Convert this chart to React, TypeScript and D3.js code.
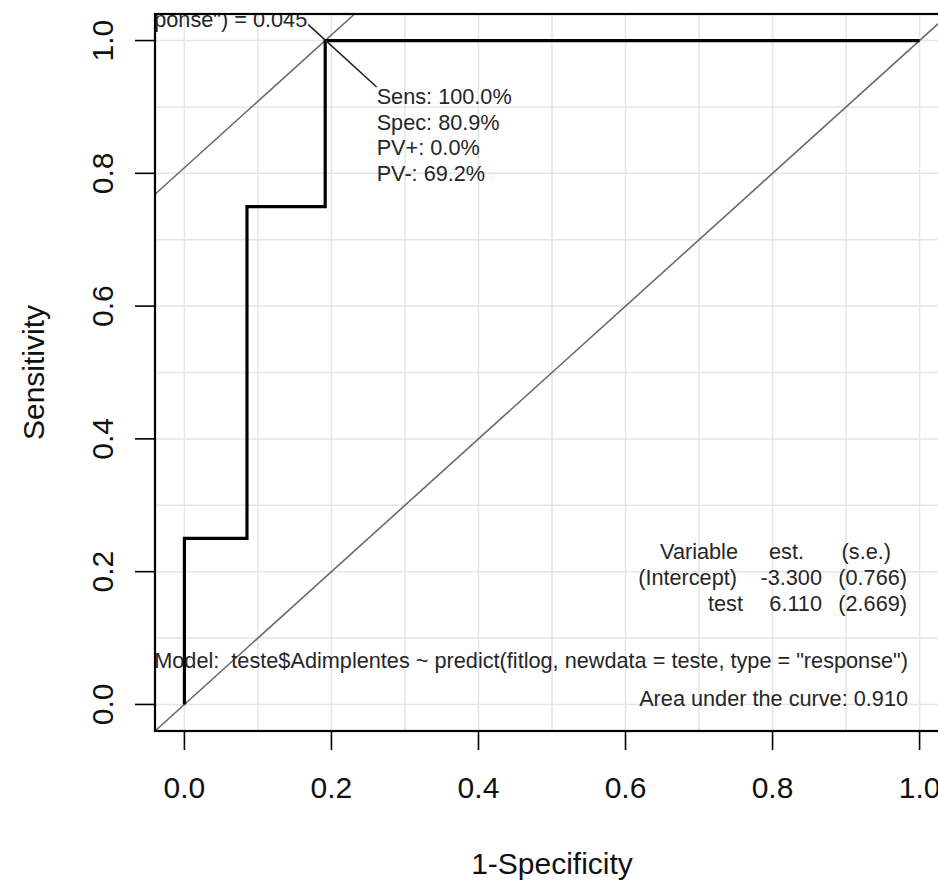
import React from "react";
import * as d3 from "d3";

// ROC curve (1-Specificity, Sensitivity)
const rocFpr = [0, 0, 0.0851, 0.1915, 1.0];
const rocSens = [0, 0.25, 0.75, 1.0, 1.0];
// optimal cut point
const optFpr = 0.1915;
const optSens = 1.0;
const optLabel = 'predict(fitlog, newdata = teste, type = "response") = 0.045';
const optStats = ["Sens: 100.0%", "Spec: 80.9%", "PV+: 0.0%", "PV-: 69.2%"];

const xTicks = [0, 0.2, 0.4, 0.6, 0.8, 1.0];
const yTicks = [0, 0.2, 0.4, 0.6, 0.8, 1.0];
const gridVals = [0, 0.1, 0.2, 0.3, 0.4, 0.5, 0.6, 0.7, 0.8, 0.9, 1.0];

const coefHeader = ["Variable", "est.", "(s.e.)"];
const coefRow1 = ["(Intercept)", "-3.300", "(0.766)"];
const coefRow2 = ["test", "6.110", "(2.669)"];
const modelText = 'Model:  teste$Adimplentes ~ predict(fitlog, newdata = teste, type = "response")';
const aucText = "Area under the curve: 0.910";

const xTitle = "1-Specificity";
const yTitle = "Sensitivity";

export default function App() {
  const W = 938;
  const H = 880;
  const left = 155, right = 949, top = 14, bottom = 731;
  const x = d3.scaleLinear().domain([-0.04, 1.04]).range([left, right]);
  const y = d3.scaleLinear().domain([-0.04, 1.04]).range([bottom, top]);
  const font = "'Liberation Sans', Arial, Helvetica, sans-serif";

  const rocPts: [number, number][] = rocFpr.map((f, i) => [f, rocSens[i]]);
  const rocPath = d3
    .line<[number, number]>()
    .x((d) => x(d[0]))
    .y((d) => y(d[1]))
    .curve(d3.curveStepAfter)(rocPts) as string;

  const diag = d3.line<[number, number]>().x((d) => x(d[0])).y((d) => y(d[1]));
  const diagPath = diag([[-0.04, -0.04], [1.04, 1.04]]) as string;
  const b = optSens - optFpr;
  const tangPath = diag([[-0.04, -0.04 + b], [1.04 - b, 1.04]]) as string;

  const px = x(optFpr);
  const py = y(optSens);

  const annFs = 21.7;
  const axFs = 30;
  const annCol = "#262626";
  const colEnds1 = [738, 804, 891];
  const colEnds2 = [737, 822, 907];
  const colEnds3 = [743, 822, 907];

  return (
    <svg
      width={W}
      height={H}
      style={{ position: "absolute", left: 0, top: 0, background: "#fff" }}
      fontFamily={font}
    >
      <defs>
        <clipPath id="plotclip">
          <rect x={left} y={top} width={right - left} height={bottom - top} />
        </clipPath>
      </defs>
      <rect x={0} y={0} width={W} height={H} fill="#fff" />
      <g clipPath="url(#plotclip)">
        {gridVals.map((v) => (
          <line key={"gv" + v} x1={x(v)} x2={x(v)} y1={top} y2={bottom} stroke="#e5e5e5" strokeWidth={1.5} />
        ))}
        {gridVals.map((v) => (
          <line key={"gh" + v} x1={left} x2={right} y1={y(v)} y2={y(v)} stroke="#e5e5e5" strokeWidth={1.5} />
        ))}
        <path d={diagPath} stroke="#6b6b6b" strokeWidth={1.6} fill="none" />
        <path d={tangPath} stroke="#6b6b6b" strokeWidth={1.6} fill="none" />
        <path d={rocPath} stroke="#000" strokeWidth={3.2} fill="none" />
        <line
          x1={x(optFpr - 0.023)}
          y1={y(optSens + 0.024)}
          x2={x(optFpr + 0.07)}
          y2={y(optSens - 0.07)}
          stroke="#222"
          strokeWidth={1.6}
        />
        <text x={px - 18} y={py - 13.5} fontSize={annFs} textAnchor="end" fill={annCol} style={{ whiteSpace: "pre" }}>
          {optLabel}
        </text>
        {optStats.map((s, i) => (
          <text key={s} x={x(optFpr + 0.07)} y={104 + i * 25.5} fontSize={annFs} fill={annCol}>
            {s}
          </text>
        ))}
        {[coefHeader, coefRow1, coefRow2].map((row, ri) =>
          row.map((c, ci) => (
            <text
              key={ri + "-" + ci}
              x={[colEnds1, colEnds2, colEnds3][ri][ci]}
              y={559 + ri * 26}
              fontSize={annFs}
              textAnchor="end"
              fill={annCol}
            >
              {c}
            </text>
          ))
        )}
        <text x={908} y={668} fontSize={annFs} textAnchor="end" fill={annCol} style={{ whiteSpace: "pre" }}>
          {modelText}
        </text>
        <text x={908} y={706} fontSize={annFs} textAnchor="end" fill={annCol}>
          {aucText}
        </text>
      </g>
      <rect x={left} y={top} width={right - left} height={bottom - top} fill="none" stroke="#000" strokeWidth={2.2} />
      {xTicks.map((t) => (
        <g key={"xt" + t}>
          <line x1={x(t)} x2={x(t)} y1={bottom} y2={bottom + 19} stroke="#000" strokeWidth={1.6} />
          <text x={x(t)} y={798} fontSize={axFs} textAnchor="middle" fill="#111">
            {t.toFixed(1)}
          </text>
        </g>
      ))}
      {yTicks.map((t) => (
        <g key={"yt" + t}>
          <line x1={left - 20} x2={left} y1={y(t)} y2={y(t)} stroke="#000" strokeWidth={1.6} />
          <text
            x={113}
            y={y(t)}
            fontSize={axFs}
            textAnchor="middle"
            fill="#111"
            transform={`rotate(-90, 113, ${y(t)})`}
          >
            {t.toFixed(1)}
          </text>
        </g>
      ))}
      <text x={(left + right) / 2} y={874} fontSize={axFs} textAnchor="middle" fill="#111">
        {xTitle}
      </text>
      <text
        x={44}
        y={y(0.5)}
        fontSize={axFs}
        textAnchor="middle"
        fill="#111"
        transform={`rotate(-90, 44, ${y(0.5)})`}
      >
        {yTitle}
      </text>
    </svg>
  );
}
